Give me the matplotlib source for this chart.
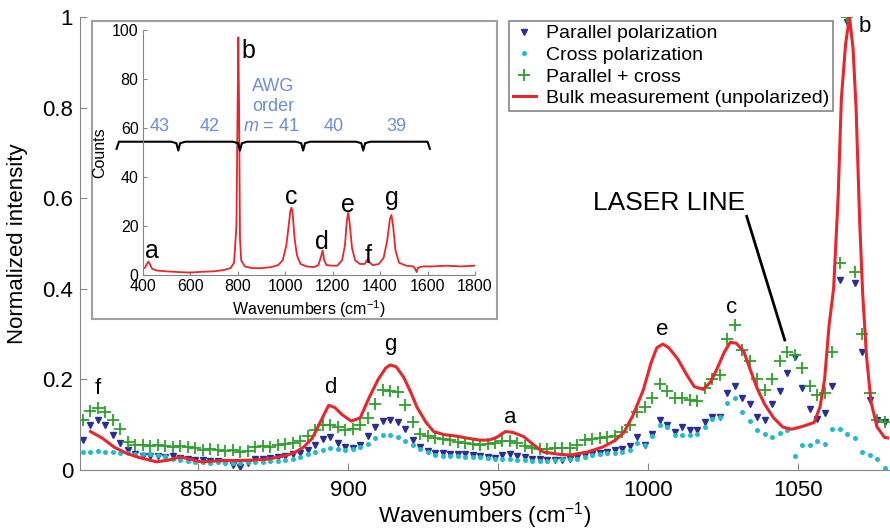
import numpy as np
import matplotlib
matplotlib.use('Agg')
import matplotlib.pyplot as plt

plt.rcParams['font.family'] = ['Liberation Sans', 'DejaVu Sans']
plt.rcParams['mathtext.fontset'] = 'custom'
plt.rcParams['mathtext.rm'] = 'Liberation Sans'
plt.rcParams['mathtext.it'] = 'Liberation Sans:italic'

# polarized measurement, sampled every 2.5 cm-1
wn = np.arange(811.5, 1080, 2.5)

parallel = [0.066, 0.10, 0.11, 0.10, 0.077, 0.06, 0.045, 0.035, 0.032, 0.03,
            0.03, 0.028, 0.03, 0.027, 0.025, 0.022, 0.022, 0.02, 0.02, 0.018,
            0.012, 0.007, 0.015, 0.025, 0.025, 0.027, 0.029, 0.032, 0.035, 0.037,
            0.045, 0.055, 0.068, 0.073, 0.06, 0.05, 0.048, 0.055, 0.075, 0.095,
            0.108, 0.11, 0.105, 0.09, 0.067, 0.05, 0.042, 0.038, 0.037, 0.035,
            0.035, 0.035, 0.034, 0.031, 0.028, 0.026, 0.033, 0.035, 0.031, 0.028,
            0.025, 0.024, 0.022, 0.023, 0.023, 0.025, 0.028, 0.034, 0.036, 0.037,
            0.04, 0.044, 0.047, 0.052, 0.074, 0.055, 0.08, 0.11, 0.099, 0.085,
            0.095, 0.088, 0.088, 0.107, 0.118, 0.118, 0.169, 0.185, 0.16, 0.145,
            0.117, 0.11, 0.145, 0.175, 0.215, 0.25, 0.18, 0.135, 0.112, 0.125,
            0.185, 0.42, 0.99, 0.412, 0.26, 0.155, 0.11, 0.107]

cross = [0.04, 0.04, 0.042, 0.04, 0.04, 0.038, 0.038, 0.036, 0.035, 0.035,
         0.033, 0.03, 0.025, 0.022, 0.02, 0.018, 0.017, 0.016, 0.017, 0.016,
         0.015, 0.016, 0.017, 0.018, 0.018, 0.019, 0.02, 0.022, 0.024, 0.028,
         0.035, 0.04, 0.045, 0.048, 0.046, 0.044, 0.046, 0.05, 0.058, 0.07,
         0.077, 0.077, 0.074, 0.065, 0.055, 0.046, 0.04, 0.033, 0.031, 0.03,
         0.03, 0.029, 0.028, 0.028, 0.026, 0.025, 0.024, 0.024, 0.023, 0.022,
         0.021, 0.02, 0.02, 0.022, 0.024, 0.025, 0.025, 0.028, 0.033, 0.036,
         0.037, 0.038, 0.04, 0.045, 0.059, 0.055, 0.075, 0.10, 0.095, 0.077,
         0.077, 0.077, 0.08, 0.096, 0.112, 0.118, 0.147, 0.16, 0.128, 0.108,
         0.088, 0.08, 0.074, 0.081, 0.088, 0.03, 0.055, 0.055, 0.063, 0.058,
         0.09, 0.09, 0.08, 0.07, 0.04, 0.033, 0.025, 0.005]

par_cross = [0.11, 0.13, 0.137, 0.128, 0.11, 0.09, 0.062, 0.055, 0.055, 0.053,
             0.055, 0.052, 0.05, 0.053, 0.05, 0.048, 0.045, 0.047, 0.044, 0.042,
             0.045, 0.04, 0.043, 0.05, 0.052, 0.05, 0.055, 0.057, 0.06, 0.065,
             0.075, 0.088, 0.10, 0.10, 0.094, 0.088, 0.09, 0.10, 0.115, 0.145,
             0.177, 0.174, 0.173, 0.143, 0.105, 0.08, 0.075, 0.07, 0.068, 0.066,
             0.062, 0.06, 0.057, 0.055, 0.057, 0.06, 0.063, 0.065, 0.06, 0.052,
             0.048, 0.046, 0.047, 0.048, 0.048, 0.048, 0.055, 0.066, 0.068, 0.07,
             0.072, 0.075, 0.085, 0.10, 0.129, 0.14, 0.16, 0.19, 0.175, 0.158,
             0.158, 0.155, 0.152, 0.18, 0.20, 0.21, 0.29, 0.32, 0.265, 0.24,
             0.20, 0.177, 0.20, 0.24, 0.261, 0.255, 0.225, 0.185, 0.165, 0.17,
             0.26, 0.457, 1.0, 0.438, 0.30, 0.17, 0.11, 0.107]

# bulk (unpolarized) measurement
bulk_wn = [814, 818, 822, 826, 830, 836, 840, 844, 847, 851, 856, 860, 864, 868,
           873, 878, 882, 885, 888, 891, 893.5, 895.5, 898, 901, 904, 907, 910,
           912.5, 914, 916, 918.5, 921, 923, 926, 928.5, 932, 936, 940, 944, 947,
           949.5, 952.5, 955, 958.5, 962, 965, 970, 974, 980, 985, 989, 992, 995,
           998.5, 1001, 1003, 1005, 1007, 1010, 1013, 1015.5, 1018.5, 1021, 1023,
           1025.5, 1027.5, 1029.5, 1032, 1034, 1036.5, 1039, 1042, 1045, 1048,
           1052, 1055.5, 1057.5, 1059, 1060.5, 1062, 1063.5, 1064.6, 1066, 1067.3,
           1068.5, 1069.5, 1070.7, 1071.7, 1073, 1074.5, 1076.5, 1079, 1081]
bulk = [0.085, 0.07, 0.05, 0.037, 0.028, 0.018, 0.022, 0.029, 0.024, 0.018, 0.02,
        0.021, 0.021, 0.022, 0.024, 0.03, 0.038, 0.05, 0.07, 0.11, 0.143, 0.138,
        0.122, 0.108, 0.115, 0.16, 0.2, 0.225, 0.232, 0.228, 0.205, 0.17, 0.138,
        0.105, 0.085, 0.078, 0.075, 0.07, 0.066, 0.066, 0.072, 0.085, 0.083, 0.074,
        0.055, 0.04, 0.035, 0.033, 0.04, 0.051, 0.065, 0.083, 0.12, 0.177, 0.235,
        0.27, 0.278, 0.27, 0.245, 0.21, 0.184, 0.178, 0.195, 0.222, 0.26, 0.282,
        0.28, 0.262, 0.225, 0.18, 0.145, 0.115, 0.095, 0.09, 0.097, 0.105, 0.14,
        0.2, 0.32, 0.40, 0.6, 0.82, 0.94, 1.0, 0.93, 0.8, 0.55, 0.39, 0.25, 0.15,
        0.095, 0.072, 0.07]

# inset: full spectrum in counts
ins_wn = [400, 410, 418, 424, 430, 440, 460, 500, 550, 600, 650, 700, 740, 770,
          785, 795, 800, 803, 806, 810, 815, 830, 860, 900, 940, 970, 990, 1005,
          1015, 1022, 1027, 1032, 1040, 1050, 1065, 1090, 1120, 1140, 1150, 1158,
          1165, 1175, 1200, 1220, 1240, 1252, 1260, 1266, 1272, 1282, 1295, 1315,
          1335, 1345, 1350, 1357, 1370, 1395, 1415, 1430, 1442, 1448, 1455, 1465,
          1480, 1510, 1540, 1548, 1554, 1560, 1580, 1620, 1680, 1740, 1800]
ins_counts = [2.5, 3, 4.5, 5.5, 4.5, 2.5, 1.8, 1.5, 1.2, 1.0, 1.3, 1.5, 2, 2.8,
              5, 20, 70, 97, 70, 15, 6, 3.5, 2.8, 2.8, 3.2, 4, 6, 12, 20, 26,
              27.5, 25, 15, 8, 4.5, 3.5, 3.2, 4, 7, 10, 6, 4, 3.8, 3.8, 6, 12,
              22, 25.5, 21, 11, 6, 4.5, 4.5, 6, 6.5, 5, 4, 4.5, 7, 14, 23, 24.5,
              20, 10, 5, 3.8, 3.5, 2.5, 1.2, 3, 3.5, 3.5, 3.8, 3.5, 3.8]

awg_edges = [290, 550, 810, 1076, 1329, 1610]
awg_labels = ['43', '42', '$m$ = 41', '40', '39']
awg_label_x = [473, 683, 943, 1203, 1469]

blue = '#2b2d96'
cyan = '#22bccb'
green = '#2ca02c'
red = '#e8262b'
grey = '#858585'

fig = plt.figure(figsize=(8.9, 5.32), dpi=100)
ax = fig.add_axes([0.0899, 0.1165, 0.909, 0.8515])

ax.plot(wn, parallel, 'v', color=blue, ms=5, label='Parallel polarization')
ax.plot(wn, cross, 'o', color=cyan, ms=2.6, label='Cross polarization')
ax.plot(wn, par_cross, '+', color=green, ms=8, mew=1.3, label='Parallel + cross')
ax.plot(bulk_wn, bulk, '-', color=red, lw=2.2, label='Bulk measurement (unpolarized)')

ax.set_xlim(810.5, 1080.5)
ax.set_ylim(0, 1)
ax.set_xticks([850, 900, 950, 1000, 1050])
ax.set_yticks([0, 0.2, 0.4, 0.6, 0.8, 1])
ax.set_yticklabels(['0', '0.2', '0.4', '0.6', '0.8', '1'])
for s in ['top', 'right']:
    ax.spines[s].set_visible(False)
for s in ['left', 'bottom']:
    ax.spines[s].set_color(grey)
ax.tick_params(direction='in', length=5, color=grey, labelsize=16)
ax.tick_params(axis='x', pad=7)
ax.tick_params(axis='y', pad=5)
ax.set_xlabel('Wavenumbers (cm$^{-1}$)', fontsize=16, va='center')
ax.xaxis.set_label_coords(0.5, -0.1)
ax.set_ylabel('Normalized intensity', fontsize=16, va='center')
ax.yaxis.set_label_coords(-0.077, 0.5)

# peak letters
for x, y, t in [(816.4, 0.167, 'f'), (894.2, 0.171, 'd'), (914.2, 0.266, 'g'),
                (954, 0.103, 'a'), (1004.8, 0.298, 'e'), (1027.9, 0.347, 'c'),
                (1072.3, 0.968, 'b')]:
    ax.text(x, y, t, fontsize=16, ha='center', va='baseline')

ax.text(981.8, 0.574, 'LASER LINE', fontsize=19, ha='left', va='baseline')
ax.plot([1033, 1045.7], [0.56, 0.287], color='k', lw=2)

leg = ax.legend(loc='upper right', bbox_to_anchor=(833 / 890, 511 / 532),
                bbox_transform=fig.transFigure, borderaxespad=0, fontsize=14,
                fancybox=False, edgecolor=grey, framealpha=1, handlelength=1.2,
                handletextpad=0.5, labelspacing=0.2, borderpad=0.2)
leg.get_frame().set_linewidth(1.2)

# inset panel
frame = fig.add_axes([0.1034, 0.4004, 0.4551, 0.5607])
frame.set_xticks([])
frame.set_yticks([])
for s in frame.spines.values():
    s.set_color('#a0a0a0')
    s.set_linewidth(1.5)

ins = fig.add_axes([0.1603, 0.4831, 0.3734, 0.4605])
ins.patch.set_alpha(0)
ins.plot(ins_wn, ins_counts, color=red, lw=1.3)
ins.set_xlim(400, 1800)
ins.set_ylim(0, 100)
ins.set_xticks(range(400, 1801, 200))
ins.set_yticks(range(0, 101, 20))
for s in ['top', 'right']:
    ins.spines[s].set_visible(False)
for s in ['left', 'bottom']:
    ins.spines[s].set_color(grey)
ins.tick_params(direction='in', length=3, color=grey, labelsize=11.5, pad=3)
ins.set_xlabel('Wavenumbers (cm$^{-1}$)', fontsize=11.5, va='center')
ins.xaxis.set_label_coords(0.5, -0.139)
ins.set_ylabel('Counts', fontsize=11.5, va='center')
ins.yaxis.set_label_coords(-0.128, 0.5)

for x, y, t in [(438, 6.8, 'a'), (846, 88.4, 'b'), (1027, 29, 'c'), (1156, 10.5, 'd'),
                (1266, 25.8, 'e'), (1350, 4.8, 'f'), (1448, 28.6, 'g')]:
    ins.text(x, y, t, fontsize=18, ha='center', va='baseline')

# AWG order braces
bx = [awg_edges[0], awg_edges[0] + 10]
by = [51.5, 54.4]
for e in awg_edges[1:-1]:
    bx += [e - 30, e - 8, e, e + 8, e + 30]
    by += [54.4, 53.8, 50.8, 53.8, 54.4]
bx += [awg_edges[-1] - 10, awg_edges[-1]]
by += [54.4, 51.5]
ins.plot(bx, by, color='k', lw=1.5, clip_on=False)

awg_col = '#6a8fd8'
for x, t in zip(awg_label_x, awg_labels):
    ins.text(x, 60.5, t, fontsize=13, color=awg_col, ha='center', va='center')
ins.text(950, 76.9, 'AWG', fontsize=13, color=awg_col, ha='center', va='center')
ins.text(950, 68.7, 'order', fontsize=13, color=awg_col, ha='center', va='center')

plt.savefig('out.png', dpi=100)
